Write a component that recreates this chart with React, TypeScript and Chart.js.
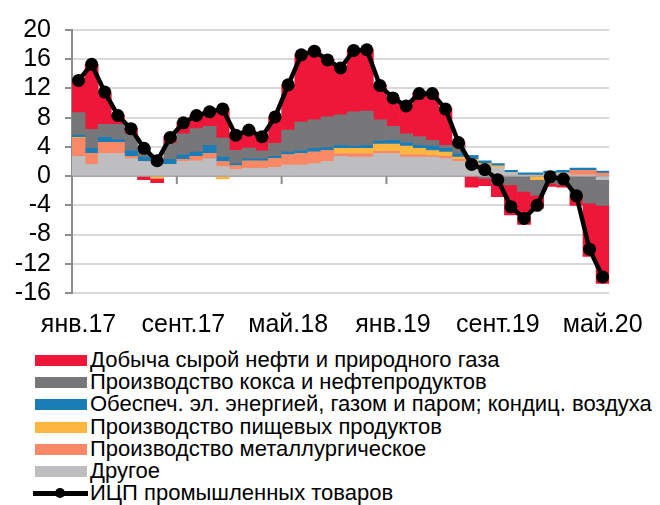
import React, { useEffect, useRef } from 'react';
import { Chart, registerables } from 'chart.js';

Chart.register(...registerables);

const months = [
  'янв.17','февр.17','март.17','апр.17','май.17','июнь.17','июль.17','авг.17','сент.17','окт.17','нояб.17','дек.17',
  'янв.18','февр.18','март.18','апр.18','май.18','июнь.18','июль.18','авг.18','сент.18','окт.18','нояб.18','дек.18',
  'янв.19','февр.19','март.19','апр.19','май.19','июнь.19','июль.19','авг.19','сент.19','окт.19','нояб.19','дек.19',
  'янв.20','февр.20','март.20','апр.20','май.20'
];

const other = [2.7,1.6,3.1,3.1,2.4,2.0,1.5,1.6,2.0,2.1,2.4,1.3,0.9,1.05,1.05,1.2,1.5,1.5,1.7,2.0,2.7,2.6,2.6,3.1,3.1,2.6,2.6,2.6,2.4,2.0,1.7,1.4,1.2,0.5,0.1,0.1,0.35,0.4,0.1,0.1,-0.5];
const metal = [2.5,1.5,1.5,1.5,0.3,0,0,0,0.3,0.6,0.7,0.7,0.5,1.0,1.0,1.2,1.4,1.6,1.6,1.5,0.4,0.5,0.5,0.3,0.3,0.3,0.3,0.2,0.3,0.3,0.2,0.1,0,0,0,0,0,0,0.7,0.7,0.4];
const food = [0.1,0,0,0,0,0,-0.3,0,0,0,0,-0.4,0,0,0,0,0,0,0,0,0.7,0.7,0.7,1.0,1.0,1.2,0.9,0.7,0.6,0.3,0.4,0.2,0.2,0,0,-0.5,0,0,0,0,0];
const energy = [0.3,0.7,0.7,0.4,0.8,0.6,0.5,0.7,0.6,0.6,1.1,0.6,0.3,0.3,0.3,0.3,0.4,0.4,0.5,0.4,0.4,0.3,0.4,0.4,0.5,0.5,0.4,0.6,0.5,0.5,0.5,0.4,0.3,0.3,0.35,0.35,0.35,0.4,0.3,0.3,0.3];
const coke = [3.1,2.6,1.8,2.1,2.3,1.3,0.4,2.2,2.9,3.2,2.6,2.6,1.8,1.5,1.1,1.8,3.0,3.9,3.9,4.2,4.2,4.7,4.7,2.9,1.9,1.2,1.2,0.8,0.4,1.0,0,-0.3,-1.0,-1.2,-2.1,-2.1,-1.0,-1.2,-2.8,-3.7,-3.5];
const oil = [4.5,8.9,4.3,1.3,0.8,-0.5,-0.6,0.9,1.6,1.9,2.1,4.1,2.1,2.4,2.0,3.6,6.2,9.3,9.5,7.9,6.5,8.5,8.5,4.8,4.0,3.9,6.0,6.5,5.1,0.5,-1.5,-1.0,-1.8,-4.1,-4.5,-1.8,-0.4,-0.3,-1.2,-7.3,-10.7];
const ipc = [13.1,15.3,11.5,8.3,6.5,3.8,2.1,5.3,7.3,8.3,8.8,9.2,5.6,6.3,5.4,8.1,12.5,16.6,17.1,15.9,14.8,17.2,17.3,12.4,10.7,9.6,11.3,11.3,9.2,4.6,1.6,0.9,-0.5,-4.2,-5.8,-4.0,-0.1,-0.4,-2.7,-10.0,-13.8];

const yTicks = [-16, -12, -8, -4, 0, 4, 8, 12, 16, 20];
const labelEvery = 8;

const names = {
  oil: 'Добыча сырой нефти и природного газа',
  coke: 'Производство кокса и нефтепродуктов',
  energy: 'Обеспеч. эл. энергией, газом и паром; кондиц. воздуха',
  food: 'Производство пищевых продуктов',
  metal: 'Производство металлургическое',
  other: 'Другое',
  ipc: 'ИЦП промышленных товаров',
};

const colors = {
  oil: '#EE1739',
  coke: '#77777A',
  energy: '#1A7DB6',
  food: '#FDB640',
  metal: '#F98866',
  other: '#BEBEC0',
  ipc: '#000000',
};

const FONT = "'Liberation Sans', Arial, sans-serif";

const zeroTicks = {
  id: 'zeroTicks',
  beforeDatasetsDraw(chart: any) {
    const { ctx, scales } = chart;
    const x = scales.x;
    const y = scales.y;
    const y0 = y.getPixelForValue(0);
    const half = (x.getPixelForValue(1) - x.getPixelForValue(0)) / 2;
    ctx.save();
    ctx.strokeStyle = '#8C8C8C';
    ctx.lineWidth = 2;
    for (let i = 0; i < months.length; i += labelEvery) {
      const px = x.getPixelForValue(i) - half;
      ctx.beginPath();
      ctx.moveTo(px, y0);
      ctx.lineTo(px, y0 + 8);
      ctx.stroke();
    }
    ctx.restore();
  },
};

export default function App() {
  const ref = useRef<HTMLCanvasElement | null>(null);

  useEffect(() => {
    if (!ref.current) return;
    const barDs = (key: string, data: number[]) => ({
      type: 'bar' as const,
      label: (names as any)[key],
      data,
      backgroundColor: (colors as any)[key],
      borderWidth: 0,
      barPercentage: 1,
      categoryPercentage: 1,
      stack: 'bars',
      order: 1,
    });
    const chart = new Chart(ref.current, {
      type: 'bar',
      data: {
        labels: months,
        datasets: [
          {
            type: 'line' as const,
            label: names.ipc,
            data: ipc,
            borderColor: colors.ipc,
            backgroundColor: colors.ipc,
            borderWidth: 4.5,
            pointRadius: 6.5,
            pointBackgroundColor: colors.ipc,
            pointBorderWidth: 0,
            tension: 0,
            stack: 'line',
            order: 0,
          } as any,
          barDs('other', other),
          barDs('metal', metal),
          barDs('food', food),
          barDs('energy', energy),
          barDs('coke', coke),
          barDs('oil', oil),
        ],
      },
      options: {
        animation: false,
        responsive: false,
        maintainAspectRatio: false,
        layout: { padding: { top: 30, right: 37, left: 0, bottom: 0 } },
        plugins: { legend: { display: false }, tooltip: { enabled: false } },
        scales: {
          x: {
            stacked: true,
            grid: { display: false, drawTicks: false },
            border: { display: false },
            ticks: {
              autoSkip: false,
              maxRotation: 0,
              minRotation: 0,
              padding: 17,
              color: '#000',
              font: { family: FONT, size: 25 },
              callback: (_v: any, i: number) => (i % labelEvery === 0 ? months[i] : ''),
            },
            afterFit: (s: any) => { s.height = 52; },
          },
          y: {
            stacked: true,
            min: yTicks[0],
            max: yTicks[yTicks.length - 1],
            afterBuildTicks: (s: any) => { s.ticks = yTicks.map((v) => ({ value: v })); },
            ticks: {
              autoSkip: false,
              color: '#000',
              padding: 14,
              font: { family: FONT, size: 25 },
            },
            grid: {
              color: (c: any) => (c.tick && c.tick.value === 0 ? '#A6A6A6' : '#D9D9D9'),
              lineWidth: 2,
              tickColor: '#8C8C8C',
              tickLength: 7,
              tickWidth: 2,
              drawTicks: true,
            },
            border: { display: true, color: '#8C8C8C', width: 2 },
            afterFit: (s: any) => { s.width = 72; },
          },
        },
      },
      plugins: [zeroTicks],
    });
    return () => chart.destroy();
  }, []);

  const legendItems = ['oil', 'coke', 'energy', 'food', 'metal', 'other'];
  const rowTop = (i: number) => 360 + 22.2 * i - 12;

  return (
    <div style={{ position: 'absolute', left: 0, top: 0, width: 660, height: 505, background: '#fff', overflow: 'hidden' }}>
      <canvas ref={ref} width={660} height={345} style={{ position: 'absolute', left: 0, top: 0, width: 660, height: 345 }} />
      {legendItems.map((k, i) => (
        <div key={k} style={{ position: 'absolute', left: 0, top: rowTop(i), height: 24 }}>
          <div style={{ position: 'absolute', left: 35, top: 7, width: 52, height: 11, background: (colors as any)[k] }} />
          <div style={{ position: 'absolute', left: 90, top: 0, whiteSpace: 'nowrap', fontFamily: FONT, fontSize: 22, lineHeight: '24px', color: '#000' }}>
            {(names as any)[k]}
          </div>
        </div>
      ))}
      <div style={{ position: 'absolute', left: 0, top: rowTop(6), height: 24 }}>
        <div style={{ position: 'absolute', left: 33, top: 10, width: 55, height: 5, background: '#000' }} />
        <div style={{ position: 'absolute', left: 55, top: 7, width: 10, height: 10, borderRadius: 5, background: '#000' }} />
        <div style={{ position: 'absolute', left: 90, top: 0, whiteSpace: 'nowrap', fontFamily: FONT, fontSize: 22, lineHeight: '24px', color: '#000' }}>
          {names.ipc}
        </div>
      </div>
    </div>
  );
}
